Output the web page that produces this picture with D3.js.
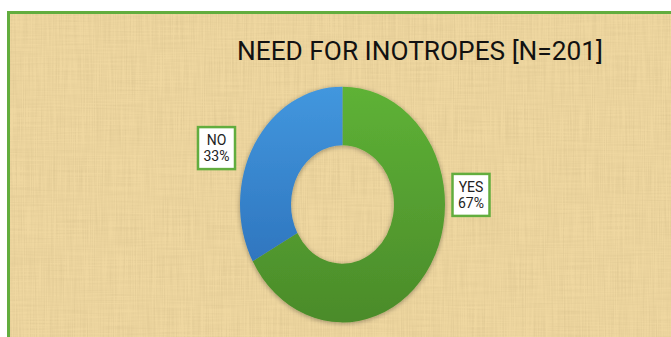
<!DOCTYPE html>
<html>
<head>
<meta charset="utf-8">
<script src="https://cdn.jsdelivr.net/npm/d3@7"></script>
<style>
  html, body { margin: 0; padding: 0; background: #fff; }
  svg { display: block; }
</style>
</head>
<body>
<svg id="chart" width="671" height="337"></svg>
<script>
const title = 'NEED FOR INOTROPES [N=201]';
const categories = ['YES', 'NO'];
const percents = [67, 33];
const colors = ['#5eb236', '#4297de'];
const colorsDark = ['#4b8b2a', '#2f76bf'];

const width = 671, height = 337;
const svg = d3.select('#chart');
const defs = svg.append('defs');

// papyrus look
const f = defs.append('filter').attr('id', 'paper').attr('x', 0).attr('y', 0).attr('width', 1).attr('height', 1);
f.append('feTurbulence').attr('type', 'fractalNoise').attr('baseFrequency', '0.9 0.02').attr('numOctaves', 2).attr('seed', 3).attr('result', 'v');
f.append('feTurbulence').attr('type', 'fractalNoise').attr('baseFrequency', '0.02 0.6').attr('numOctaves', 2).attr('seed', 7).attr('result', 'h');
f.append('feComposite').attr('in', 'v').attr('in2', 'h').attr('operator', 'arithmetic').attr('k2', 0.6).attr('k3', 0.4).attr('result', 'n');
f.append('feColorMatrix').attr('in', 'n').attr('type', 'matrix')
    .attr('values', '0 0 0 0 0.55  0 0 0 0 0.42  0 0 0 0 0.2  0.7 0 0 0 -0.25');

const shadow = defs.append('filter').attr('id', 'shadow').attr('x', -0.2).attr('y', -0.2).attr('width', 1.4).attr('height', 1.4);
shadow.append('feGaussianBlur').attr('in', 'SourceAlpha').attr('stdDeviation', 2.5);
shadow.append('feOffset').attr('dx', 0).attr('dy', 1).attr('result', 'b');
shadow.append('feComponentTransfer').append('feFuncA').attr('type', 'linear').attr('slope', 0.35);
const merge = shadow.append('feMerge');
merge.append('feMergeNode');
merge.append('feMergeNode').attr('in', 'SourceGraphic');

categories.forEach((c, i) => {
    const g = defs.append('linearGradient').attr('id', 'grad' + i).attr('x1', 0).attr('y1', 0).attr('x2', 0).attr('y2', 1);
    g.append('stop').attr('offset', '0%').attr('stop-color', colors[i]);
    g.append('stop').attr('offset', '100%').attr('stop-color', colorsDark[i]);
});

// frame (right and bottom edges run off the picture)
const fx = 7, fy = 11;
svg.append('rect').attr('x', fx).attr('y', fy).attr('width', width).attr('height', height)
    .attr('fill', '#efd7a0');
svg.append('rect').attr('x', fx).attr('y', fy).attr('width', width).attr('height', height)
    .attr('fill', '#fff').attr('filter', 'url(#paper)');
svg.append('rect').attr('x', fx + 1.5).attr('y', fy + 1.5).attr('width', width + 10).attr('height', height + 10)
    .attr('fill', 'none').attr('stroke', '#62ad3e').attr('stroke-width', 3);

svg.append('text')
    .attr('x', 237).attr('y', 60)
    .attr('textLength', 366).attr('lengthAdjust', 'spacingAndGlyphs')
    .attr('font-family', 'Roboto, sans-serif').attr('font-size', 26)
    .attr('fill', '#111')
    .text(title);

// donut (slightly taller than wide, as in the source)
const cx = 342.5, cy = 204.5, rOuter = 102.5, rInner = 51.5, stretch = 1.15;
const pie = d3.pie().sort(null).value(d => d)(percents);
const arc = d3.arc().innerRadius(rInner).outerRadius(rOuter);

const donut = svg.append('g').attr('filter', 'url(#shadow)')
    .attr('transform', `translate(${cx},${cy}) scale(1,${stretch})`);
donut.selectAll('path')
    .data(pie)
    .enter()
    .append('path')
    .attr('d', arc)
    .attr('fill', (d, i) => `url(#grad${i})`);

// labels in boxes, to the side of each slice
const boxW = 37, boxH = 42;
const labels = svg.append('g');
pie.forEach((d, i) => {
    const mid = (d.startAngle + d.endAngle) / 2;
    const px = cx + (Math.sin(mid) > 0 ? 128.5 : -126);
    const py = cy - 33 - Math.cos(mid) * 46;
    const g = labels.append('g').attr('transform', `translate(${px},${py})`);
    g.append('rect')
        .attr('x', -boxW / 2).attr('y', -boxH / 2).attr('width', boxW).attr('height', boxH)
        .attr('fill', '#fff').attr('stroke', '#62ad3e').attr('stroke-width', 2.5);
    g.append('text').attr('text-anchor', 'middle').attr('y', -3)
        .attr('font-family', 'Roboto, sans-serif').attr('font-size', 14).attr('fill', '#222')
        .text(categories[i]);
    g.append('text').attr('text-anchor', 'middle').attr('y', 13)
        .attr('font-family', 'Roboto, sans-serif').attr('font-size', 14).attr('fill', '#222')
        .text(percents[i] + '%');
});
</script>
</body>
</html>
